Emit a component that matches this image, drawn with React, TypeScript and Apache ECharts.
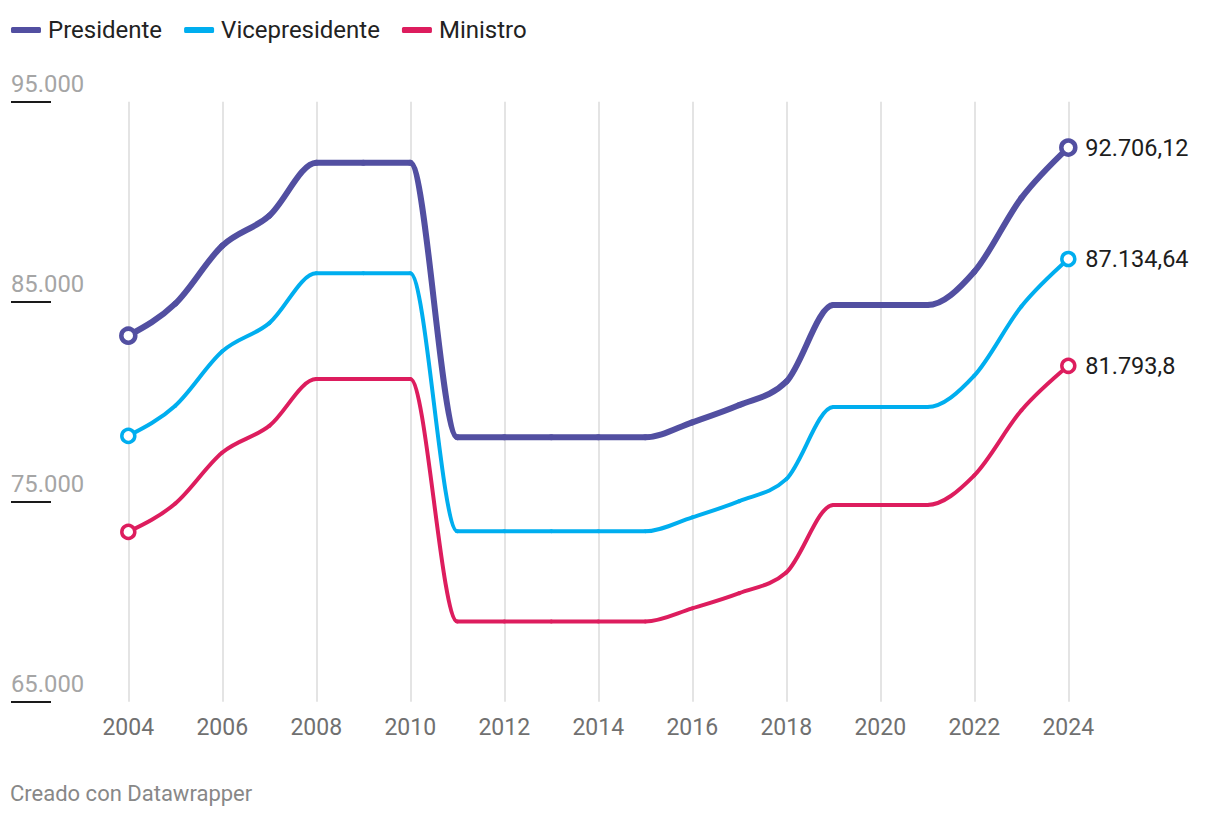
import React, { useEffect, useRef } from "react";
import * as echarts from "echarts";

const YEARS = [2004, 2005, 2006, 2007, 2008, 2009, 2010, 2011, 2012, 2013, 2014, 2015, 2016, 2017, 2018, 2019, 2020, 2021, 2022, 2023, 2024];
const PRESIDENTE = [83300, 84900, 87800, 89300, 91950, 91950, 91950, 78220, 78220, 78220, 78220, 78220, 78970, 79830, 81000, 84830, 84830, 84830, 86500, 90180, 92706.12];
const VICEPRESIDENTE = [78290, 79800, 82520, 83930, 86420, 86420, 86420, 73520, 73520, 73520, 73520, 73520, 74220, 75030, 76130, 79730, 79730, 79730, 81300, 84760, 87134.64];
const MINISTRO = [73490, 74910, 77460, 78790, 81130, 81130, 81130, 69010, 69010, 69010, 69010, 69010, 69670, 70430, 71460, 74840, 74840, 74840, 76320, 79560, 81793.8];
const SERIES_NAMES = ["Presidente", "Vicepresidente", "Ministro"];
const Y_MIN = 65000;
const Y_MAX = 95000;
const Y_STEP = 10000;
const X_MIN = 2004;
const X_MAX = 2024;
const X_STEP = 2;
const FOOTER = "Creado con Datawrapper";

const COLORS = ["#524fa1", "#00aeef", "#dd1d5e"];
const WIDTHS = [6, 4, 4];
const FONT = "Roboto, 'Noto Sans', sans-serif";

function fmtDE(v: number): string {
  const s = String(v);
  const [ip, fp] = s.split(".");
  const intStr = ip.replace(/\B(?=(\d{3})+(?!\d))/g, ".");
  return fp ? intStr + "," + fp : intStr;
}

function monotoneSegments(pts: number[][]) {
  const n = pts.length;
  const t: number[] = new Array(n).fill(0);
  const sgn = (v: number) => (v < 0 ? -1 : 1);
  for (let i = 1; i < n - 1; i++) {
    const [x0, y0] = pts[i - 1];
    const [x1, y1] = pts[i];
    const [x2, y2] = pts[i + 1];
    const h0 = x1 - x0;
    const h1 = x2 - x1;
    const s0 = (y1 - y0) / h0;
    const s1 = (y2 - y1) / h1;
    const p = (s0 * h1 + s1 * h0) / (h0 + h1);
    t[i] = (sgn(s0) + sgn(s1)) * Math.min(Math.abs(s0), Math.abs(s1), 0.5 * Math.abs(p)) || 0;
  }
  if (n > 2) {
    const h = pts[1][0] - pts[0][0];
    t[0] = (3 * (pts[1][1] - pts[0][1]) / h - t[1]) / 2;
    const hl = pts[n - 1][0] - pts[n - 2][0];
    t[n - 1] = (3 * (pts[n - 1][1] - pts[n - 2][1]) / hl - t[n - 2]) / 2;
  }
  const segs: any[] = [];
  for (let i = 0; i < n - 1; i++) {
    const [x0, y0] = pts[i];
    const [x1, y1] = pts[i + 1];
    const dx = (x1 - x0) / 3;
    segs.push({
      x1: x0,
      y1: y0,
      cpx1: x0 + dx,
      cpy1: y0 + dx * t[i],
      cpx2: x1 - dx,
      cpy2: y1 - dx * t[i + 1],
      x2: x1,
      y2: y1,
    });
  }
  return segs;
}

export default function App() {
  const ref = useRef<HTMLDivElement>(null);

  useEffect(() => {
    if (!ref.current) return;
    const chart = echarts.init(ref.current, null, { renderer: "svg" });
    const allValues = [PRESIDENTE, VICEPRESIDENTE, MINISTRO];

    const series = allValues.map((vals, si) => {
      const color = COLORS[si];
      const lw = WIDTHS[si];
      const r = si === 0 ? 7 : 6.5;
      const bw = si === 0 ? 4.5 : 3.5;
      return {
        type: "custom",
        name: SERIES_NAMES[si],
        coordinateSystem: "cartesian2d",
        xAxisIndex: 0,
        yAxisIndex: 0,
        itemStyle: { color },
        z: 10 - si,
        data: YEARS.map((yr, i) => [yr, vals[i]]),
        renderItem: (params: any, api: any) => {
          if (params.dataIndex !== 0) return null;
          const pts = YEARS.map((yr, i) => api.coord([yr, vals[i]]));
          const segs = monotoneSegments(pts).map((shape) => ({
            type: "bezierCurve",
            shape,
            style: { fill: "none", stroke: color, lineWidth: lw, lineCap: "round", lineJoin: "round" },
          }));
          const first = pts[0];
          const last = pts[pts.length - 1];
          const circles = [first, last].map((p) => ({
            type: "circle",
            z2: 5,
            shape: { cx: p[0], cy: p[1], r },
            style: { fill: "#ffffff", stroke: color, lineWidth: bw },
          }));
          const label = {
            type: "text",
            z2: 6,
            x: last[0] + 17,
            y: last[1],
            style: {
              text: fmtDE(vals[vals.length - 1]),
              fill: "#1d1d1d",
              fontSize: 23.5,
              fontFamily: FONT,
              align: "left",
              verticalAlign: "middle",
            },
          };
          return { type: "group", children: [...segs, ...circles, label] };
        },
      };
    });

    const option: any = {
      animation: false,
      backgroundColor: "#ffffff",
      textStyle: { fontFamily: FONT },
      legend: {
        left: 11,
        top: 18,
        padding: 0,
        itemWidth: 30,
        itemHeight: 6,
        itemGap: 22,
        icon: "roundRect",
        textStyle: { fontSize: 24, color: "#222222", fontFamily: FONT, padding: [0, 0, 0, 2] },
        data: SERIES_NAMES.map((name, i) => ({ name, itemStyle: { color: COLORS[i] } })),
      },
      grid: [
        { left: 128.3, right: 151.7, top: 101.7, bottom: 116.3 },
        { left: 11, width: 40, top: 101.7, bottom: 116.3 },
      ],
      xAxis: [
        {
          type: "value",
          gridIndex: 0,
          min: X_MIN,
          max: X_MAX,
          interval: X_STEP,
          axisLine: { show: false },
          axisTick: { show: false },
          splitLine: { show: true, lineStyle: { color: "#e4e4e4", width: 2 } },
          axisLabel: {
            fontSize: 23,
            color: "#707070",
            fontFamily: FONT,
            margin: 14,
            formatter: (v: number) => String(v),
          },
        },
        { type: "value", gridIndex: 1, min: 0, max: 1, show: false },
      ],
      yAxis: [
        {
          type: "value",
          gridIndex: 0,
          min: Y_MIN,
          max: Y_MAX,
          interval: Y_STEP,
          axisLine: { show: false },
          axisTick: { show: false },
          axisLabel: { show: false },
          splitLine: { show: false },
        },
        {
          type: "value",
          gridIndex: 1,
          min: Y_MIN,
          max: Y_MAX,
          interval: Y_STEP,
          axisLine: { show: false },
          axisTick: { show: false },
          splitLine: { show: true, lineStyle: { color: "#1a1a1a", width: 2 } },
          axisLabel: {
            show: true,
            margin: 0,
            align: "left",
            verticalAlign: "bottom",
            padding: [0, 0, 6, 0],
            fontSize: 23.8,
            color: "#a5a5a5",
            fontFamily: FONT,
            formatter: (v: number) => fmtDE(v),
          },
        },
      ],
      graphic: [
        {
          type: "text",
          left: 10,
          top: 782,
          style: { text: FOOTER, fill: "#888888", fontSize: 22, fontFamily: FONT },
        },
      ],
      series,
    };

    chart.setOption(option);
    return () => chart.dispose();
  }, []);

  return (
    <div
      ref={ref}
      style={{ position: "absolute", left: 0, top: 0, width: 1220, height: 818 }}
    />
  );
}
